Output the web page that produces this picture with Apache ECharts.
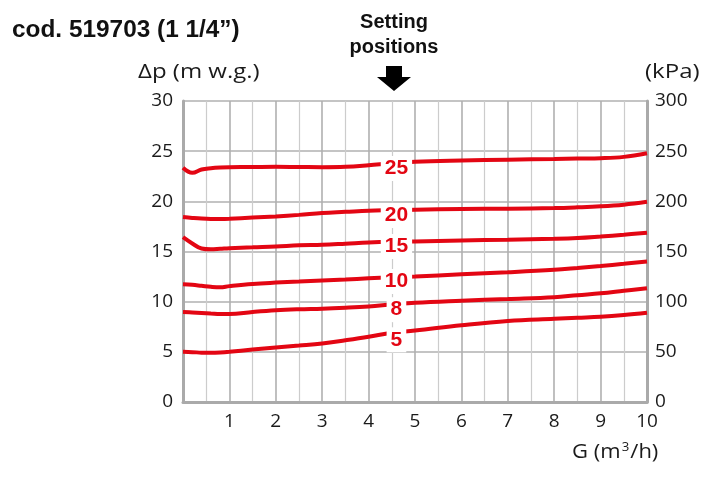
<!DOCTYPE html>
<html>
<head>
<meta charset="utf-8">
<script src="https://cdn.jsdelivr.net/npm/echarts@6/dist/echarts.min.js"></script>
<style>html,body{margin:0;padding:0;background:#fff}#c{width:711px;height:478px}</style>
</head>
<body>
<div id="c"></div>
<script>
// flow rate G (m3/h)
const flow = [0, 0.2, 0.4, 0.6, 0.8, 1, 1.5, 2, 2.5, 3, 3.5, 4, 4.5, 5, 6, 7, 8, 8.5, 9, 9.5, 10];
// Δp (m w.g.) per setting position
const pos25 = [23.34, 22.84, 23.17, 23.30, 23.37, 23.40, 23.42, 23.44, 23.42, 23.40, 23.44, 23.60, 23.80, 23.95, 24.07, 24.15, 24.22, 24.27, 24.30, 24.43, 24.80];
const pos20 = [18.44, 18.35, 18.28, 18.25, 18.25, 18.27, 18.38, 18.50, 18.65, 18.83, 18.95, 19.07, 19.12, 19.17, 19.24, 19.27, 19.33, 19.40, 19.50, 19.67, 19.95];
const pos15 = [16.43, 15.80, 15.30, 15.22, 15.27, 15.33, 15.42, 15.50, 15.62, 15.67, 15.78, 15.90, 15.97, 16.00, 16.10, 16.17, 16.27, 16.35, 16.50, 16.67, 16.87];
const pos10 = [11.73, 11.68, 11.58, 11.48, 11.43, 11.55, 11.77, 11.90, 12.00, 12.10, 12.20, 12.33, 12.43, 12.50, 12.73, 12.93, 13.17, 13.35, 13.55, 13.77, 14.00];
const pos8  = [8.97, 8.93, 8.88, 8.82, 8.76, 8.76, 8.97, 9.14, 9.24, 9.30, 9.40, 9.53, 9.72, 9.90, 10.10, 10.27, 10.45, 10.65, 10.83, 11.08, 11.33];
const pos5  = [5.00, 4.97, 4.92, 4.90, 4.93, 5.00, 5.23, 5.43, 5.62, 5.83, 6.15, 6.50, 6.90, 7.12, 7.65, 8.08, 8.30, 8.40, 8.50, 8.67, 8.90];
// in-line setting labels
const settingNames = ['25', '20', '15', '10', '8', '5'];
const labelFlow = 4.6;
const labelDp = [23.27, 18.6, 15.5, 12.0, 9.2, 6.2];

const curves = [pos25, pos20, pos15, pos10, pos8, pos5];
const RED = '#e30613';
const axisFont = '"Open Sans", sans-serif';
const boldFont = '"Liberation Sans", Arial, sans-serif';

const chart = echarts.init(document.getElementById('c'), null, {renderer: 'canvas'});

const lineSeries = curves.map((vals, i) => ({
  type: 'line',
  name: settingNames[i],
  smooth: 0.4,
  showSymbol: false,
  symbol: 'none',
  yAxisIndex: 0,
  lineStyle: {color: RED, width: 4},
  data: flow.map((x, j) => [x, vals[j]]),
  z: 3,
  silent: true
}));

const labelSeries = {
  type: 'scatter',
  yAxisIndex: 0,
  symbolSize: 1,
  z: 10,
  silent: true,
  itemStyle: {opacity: 1, color: 'rgba(0,0,0,0)'},
  emphasis: {disabled: true},
  label: {
    show: true,
    position: 'inside',
    formatter: p => p.data[2],
    color: RED,
    opacity: 1,
    fontFamily: boldFont,
    fontWeight: 'bold',
    fontSize: 21,
    backgroundColor: '#fff',
    padding: [3, 4, 1, 4]
  },
  data: settingNames.map((n, i) => [labelFlow, labelDp[i], n])
};

chart.setOption({
  animation: false,
  grid: {left: 183, right: 64, top: 101, bottom: 76, show: false},
  xAxis: {
    type: 'value', min: 0, max: 10, interval: 1,
    axisLine: {show: true, lineStyle: {color: '#aaaaaa', width: 3}},
    axisTick: {show: false},
    axisLabel: {
      color: '#1a1a1a', fontFamily: axisFont, fontSize: 19, margin: 10,
      formatter: v => (v > 0 ? String(v) : '')
    },
    splitLine: {show: true, lineStyle: {color: '#b0b0b0', width: 1.6}},
    minorTick: {show: false, splitNumber: 2},
    minorSplitLine: {show: true, lineStyle: {color: '#cccccc', width: 1.2}}
  },
  yAxis: [{
    type: 'value', min: 0, max: 30, interval: 5, position: 'left',
    axisLine: {show: true, lineStyle: {color: '#aaaaaa', width: 3}},
    axisTick: {show: false},
    axisLabel: {color: '#1a1a1a', fontFamily: axisFont, fontSize: 19, margin: 10},
    splitLine: {show: true, lineStyle: {color: '#b0b0b0', width: 1.6}}
  }, {
    type: 'value', min: 0, max: 300, interval: 50, position: 'right',
    axisLine: {show: true, lineStyle: {color: '#aaaaaa', width: 3}},
    axisTick: {show: false},
    axisLabel: {color: '#1a1a1a', fontFamily: axisFont, fontSize: 19, margin: 8},
    splitLine: {show: false}
  }],
  graphic: [
    {type: 'text', x: 12, y: 19, scaleX: 1.06, style: {text: 'cod. 519703 (1 1/4”)', fontFamily: boldFont, fontWeight: 'bold', fontSize: 23, fill: '#111'}},
    {type: 'text', x: 394, y: 10, style: {text: 'Setting\npositions', align: 'center', lineHeight: 25, fontFamily: boldFont, fontWeight: 'bold', fontSize: 20, fill: '#111'}},
    {type: 'polygon', shape: {points: [[386, 66], [402, 66], [402, 77], [411, 77], [394, 91], [377, 77], [386, 77]]}, style: {fill: '#000'}},
    {type: 'text', x: 138, y: 62, scaleX: 1.2, style: {text: 'Δp (m w.g.)', fontFamily: axisFont, fontSize: 20, fill: '#1a1a1a'}},
    {type: 'text', x: 645, y: 62, scaleX: 1.2, style: {text: '(kPa)', fontFamily: axisFont, fontSize: 20, fill: '#1a1a1a'}},
    {type: 'text', x: 572, y: 442, scaleX: 1.1, style: {text: 'G (m{s|3}/h)', fontFamily: axisFont, fontSize: 20, fill: '#1a1a1a', rich: {s: {fontSize: 12, verticalAlign: 'top', padding: [0, 1, 9, 1], fontFamily: axisFont, fill: '#1a1a1a'}}}}
  ],
  series: [...lineSeries, labelSeries]
});
</script>
</body>
</html>
